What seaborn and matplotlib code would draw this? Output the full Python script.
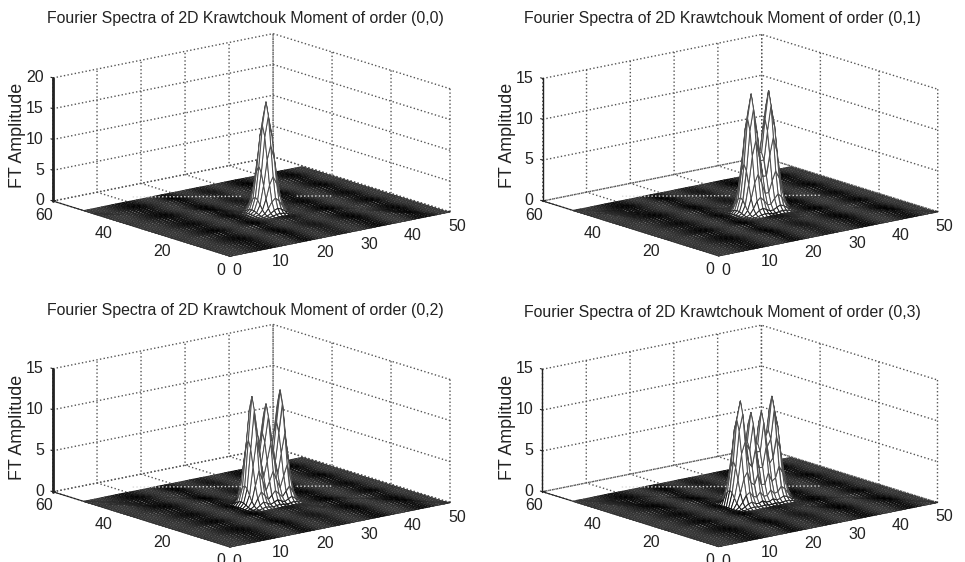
import numpy as np
import matplotlib
matplotlib.use("Agg")
import matplotlib.pyplot as plt
import seaborn as sns
from mpl_toolkits.mplot3d import proj3d

sns.set_style("white")
plt.rcParams['font.family'] = ['Liberation Sans', 'DejaVu Sans']

titles = ["Fourier Spectra of 2D Krawtchouk Moment of order (0,0)",
          "Fourier Spectra of 2D Krawtchouk Moment of order (0,1)",
          "Fourier Spectra of 2D Krawtchouk Moment of order (0,2)",
          "Fourier Spectra of 2D Krawtchouk Moment of order (0,3)"]
x_ticks = [0, 10, 20, 30, 40, 50]
y_ticks = [0, 20, 40, 60]
z_ticks_by_panel = [[0, 5, 10, 15, 20], [0, 5, 10, 15], [0, 5, 10, 15], [0, 5, 10, 15]]
z_label = "FT Amplitude"

grid_step = 0.8
grid_points = 64
ridge_start = 24   # grid index of the first value in the ridge lists below
ridge_00 = [0, .05, .2, .7, 2.6, 7.5, 14, 17.7, 14, 7.5, 2.6, .7, .2, .05, 0, 0, 0, 0]
ridge_01 = [0, .1, .5, 2, 6, 11.5, 14.4, 11, 7, 7, 11, 14.4, 11.5, 6, 2, .5, .1, 0]
ridge_02 = [.6, 2.5, 8, 13.2, 9.5, 5.5, 8.5, 11.9, 8.5, 5.5, 9.5, 13.3, 8, 2.5, .6, .1, 0, 0]
ridge_03 = [2, 5.5, 10.5, 12.7, 8.5, 7.5, 11, 7, 7, 10.9, 7.5, 8.5, 12.5, 10, 5.5, 2, .6, 0]
ridges = [ridge_00, ridge_01, ridge_02, ridge_03]
across_start = 25
across_profile = [.02, .06, .15, .34, .62, .88, 1, .88, .62, .34, .15, .06, .02]

# small side-lobe ripple of the floor, one value per grid line
floor_ripple = [.1, .05, .05, .1, .2, .35, .5, .65, .8, .9, .95, .9, .75, .55, .35, .2, .1, .1, .25,
                .5, .8, 1, .9, .7, .45, .25, .15, .15, .25, .45, .6, .65, .6, .45, .25, .15, .1, .2, .35,
                .55, .8, .95, 1, .9, .7, .45, .25, .1, .05, .1, .25, .45, .7, .85, .95, .9, .7, .45,
                .25, .1, .05, .1, .15, .2]

# white dotted trace across the floor, split by the peak
floor_trace_x = [[12.0, 27.5], [35.0, 40.1]]
floor_trace_y = [[50.9, 36.6], [29.6, 24.9]]

# pixel positions of the box corners in the reference: origin, x end, y end, z top at y end
box_px = [[(230, 257), (450, 213), (53, 200), (53, 77)],
          [(718, 257), (938, 213), (543, 200), (543, 77)],
          [(230, 548), (450, 503), (53, 492), (53, 367)],
          [(717, 548), (938, 503), (543, 492), (543, 367)]]
W, H = 965, 562

fig = plt.figure(figsize=(W / 100, H / 100), dpi=100)
x_grid = np.arange(grid_points) * grid_step
x_grid = x_grid[x_grid <= 50.01]
n = x_grid.size
XX, YY = np.meshgrid(x_grid, x_grid, indexing="ij")
ripple = np.array(floor_ripple)[:n]
title_xy = [(245, 18), (722, 18), (245, 311), (722, 313)]

for p in range(4):
    zt = z_ticks_by_panel[p]
    ax = fig.add_axes([0.1, 0.1, 0.4, 0.4], projection="3d", computed_zorder=False)
    ax.patch.set_alpha(0)
    ax.set_proj_type("ortho")
    ax.view_init(elev=14.5, azim=-128.8)
    ax.set_box_aspect((282, 282, 127))
    ax.set_xlim(0, 50, view_margin=0)
    ax.set_ylim(0, 60, view_margin=0)
    ax.set_zlim(0, zt[-1], view_margin=0)

    x_part = np.zeros(n)
    x_part[ridge_start:ridge_start + len(ridges[p])] = ridges[p]
    y_part = np.zeros(n)
    y_part[across_start:across_start + len(across_profile)] = across_profile
    Z = np.outer(x_part, y_part) + 0.12 * (zt[-1] / 15) * np.outer(ripple, ripple)

    surf = ax.plot_surface(XX, YY, Z, rstride=1, cstride=1, color="white", shade=False,
                           edgecolor="black", linewidth=0.7, antialiased=True, zorder=2)
    shade = np.outer(ripple[:-1], np.ones(n - 1)) * 0.9 + np.outer(np.ones(n - 1), ripple[:-1]) * 0.1
    grey = 0.22 - 0.22 * shade
    high = np.outer(x_part[:-1], y_part[:-1]) > 0.4
    grey[high] = 0.3
    colours = np.column_stack([grey.ravel(), grey.ravel(), grey.ravel(), np.ones(grey.size)])
    surf.set_edgecolor(colours)
    widths = np.where(high, 0.9, 0.7)
    surf.set_linewidth(widths.ravel())
    for tx, ty in zip(floor_trace_x, floor_trace_y):
        ax.plot(tx, ty, [0.3, 0.3], color="#dddddd", linestyle=":", linewidth=1.0, zorder=3)

    ax.set_xticks(x_ticks)
    ax.set_yticks(y_ticks)
    ax.set_zticks(zt)
    ax.tick_params(axis="both", labelsize=11.5, colors="#222222")
    ax.tick_params(axis="x", pad=-2)
    ax.tick_params(axis="y", pad=-2)
    ax.tick_params(axis="z", pad=-4.5)
    for label in ax.zaxis.get_ticklabels():
        label.set_ha("right")
        label.set_va("center")
    for axis in (ax.xaxis, ax.yaxis, ax.zaxis):
        axis.set_pane_color((1, 1, 1, 0))
        axis.pane.set_edgecolor((1, 1, 1, 0))
        axis._axinfo["grid"].update(color="#555555", linestyle=":", linewidth=1.0)
        axis._axinfo["tick"].update(inward_factor=0.0, outward_factor=0.15)
        axis.line.set_color("#222222")
        axis.line.set_linewidth(0.8)
    ax.zaxis._axinfo["juggled"] = (1, 2, 0)
    ax.zaxis.set_ticks_position("lower")
    ax.zaxis.line.set_linewidth(2.0 if p in (0, 2) else 1.0)

    # fit the square axes so the box lands on the reference corners
    targets = box_px[p]
    def corners():
        ax.apply_aspect()
        M = ax.get_proj()
        pts = []
        for c in [(0, 0, 0), (50, 0, 0), (0, 60, 0), (0, 60, zt[-1])]:
            u, v, _ = proj3d.proj_transform(*c, M)
            pts.append(ax.transData.transform((u, v)))
        return np.array(pts)
    want = np.array([(a, H - b) for a, b in targets], float)
    for _ in range(3):
        cur = corners()
        scale = (want[1, 0] - want[2, 0]) / (cur[1, 0] - cur[2, 0])
        pos = ax.get_position()
        size = pos.width * W * scale
        cx, cy = cur.mean(axis=0)
        tx, ty = want.mean(axis=0)
        ox = pos.x0 * W + pos.width * W / 2
        oy = pos.y0 * H + pos.height * H / 2
        nx = tx + (ox - cx) * scale
        ny = ty + (oy - cy) * scale
        ax.set_position([(nx - size / 2) / W, (ny - size / 2) / H, size / W, size / H])

    fig.text(title_xy[p][0] / W, 1 - title_xy[p][1] / H, titles[p], ha="center", va="center",
             fontsize=11.4, color="#222222")
    fig.text((targets[2][0] - 35) / W, 1 - (targets[2][1] - 65) / H, z_label, rotation=90,
             ha="center", va="center", fontsize=12.9, color="#222222")

fig.savefig("out.png", dpi=100, facecolor="white")
